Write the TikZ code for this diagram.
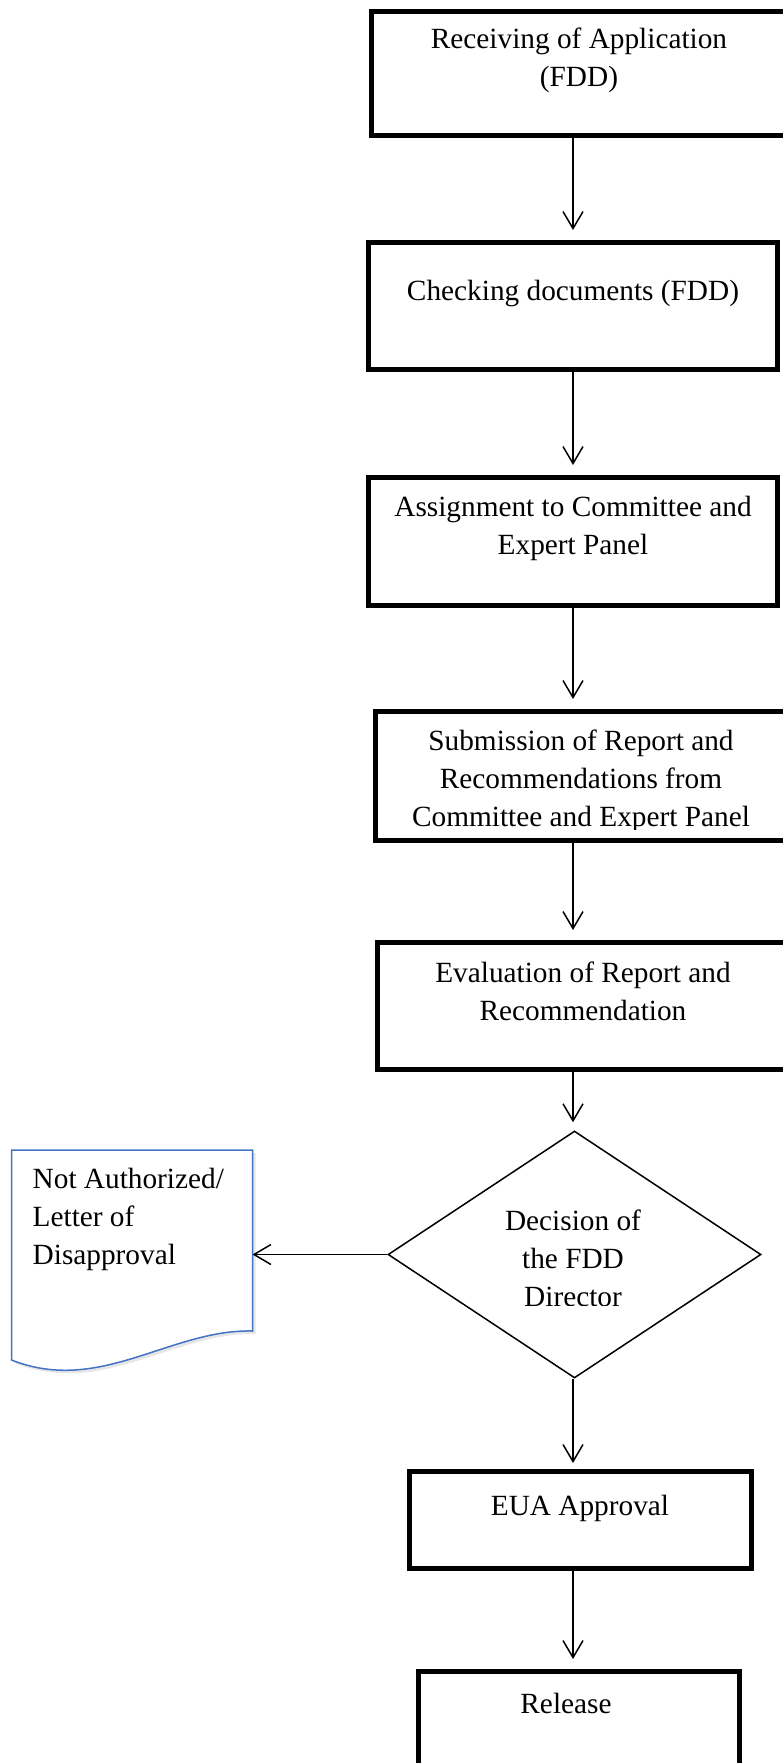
\documentclass[tikz,border=0pt]{standalone}
\usepackage{fontspec}
\setmainfont{Liberation Serif}
\usetikzlibrary{arrows.meta, positioning, shapes.geometric, shadows}
\definecolor{docblue}{RGB}{68,114,196}

\begin{document}
\begin{tikzpicture}[x=1pt, y=-1pt]
    \tikzstyle{process}=[rectangle, draw=black, line width=5pt, inner sep=0pt]
    \tikzstyle{decision}=[diamond, draw=black, line width=1.5pt, inner sep=0pt, minimum width=373pt, minimum height=247pt]
    \tikzstyle{docarea}=[rectangle, inner sep=0pt, outer sep=0pt, minimum width=241pt, minimum height=181pt]
    \tikzstyle{boxtext}=[inner sep=0pt, align=center, font=\fontsize{29.3}{38}\selectfont]
    \tikzstyle{flow}=[line width=1.5pt, -{Straight Barb[length=17pt, width=20pt]}, shorten >=10pt]

    \useasboundingbox (0,0) rectangle (783,1763);
    \clip (0,0) rectangle (783,1763);
    \coordinate (spine) at (573,0);

    % the steps, from top to bottom
    \node[process, minimum width=418.5pt, minimum height=124pt] (recv) at (580.75,73.5) {};
    \node[process, minimum width=409pt, minimum height=127pt] (check) at (573,306) {};
    \node[process, minimum width=409pt, minimum height=128pt] (assign) at (573,541.5) {};
    \node[process, minimum width=416.5pt, minimum height=129pt] (submit) at (583.75,776) {};
    \node[process, minimum width=414.5pt, minimum height=127pt] (eval) at (584.75,1006) {};
    \node[decision] (decide) at (574.5,1254.5) {};
    \node[process, minimum width=342pt, minimum height=97pt] (eua) at (580.5,1520) {};
    \node[process, minimum width=320.5pt, minimum height=108.5pt] (release) at (578.75,1725.75) {};

    % the refusal letter
    \node[docarea] (notauth) at (132,1240.5) {};
    \draw[docblue, line width=1.5pt, fill=white, drop shadow={shadow xshift=3pt, shadow yshift=-3pt, opacity=0.2}]
        (notauth.north west) -- (notauth.north east) -- (notauth.south east)
        .. controls (170,1329) and (100,1395) .. (11.5,1360) -- cycle;

    \node[boxtext, anchor=north] (recvtext) at (579,21.4) {\strut Receiving of Application\\(FDD)};
    \node[boxtext, anchor=north] (checktext) at (573,273.4) {\strut Checking documents (FDD)};
    \node[boxtext, anchor=north] (assigntext) at (573,489.4) {\strut Assignment to Committee and\\Expert Panel};
    \begin{scope}
        \clip (375,711) rectangle (790,829);
        \node[boxtext, anchor=north] (submittext) at (581,723.4) {\strut Submission of Report and\\Recommendations from\\Committee and Expert Panel};
    \end{scope}
    \node[boxtext, anchor=north] (evaltext) at (583,955.4) {\strut Evaluation of Report and\\Recommendation};
    \begin{scope}
        \clip (388,1131) rectangle (761,1305);
        \node[boxtext, anchor=north] (decidetext) at (573,1203.4) {\strut Decision of\\the FDD\\Director};
    \end{scope}
    \node[boxtext, align=left, anchor=north west] (notauthtext) at (32.5,1161.4) {\strut Not Authorized/\\Letter of\\Disapproval};
    \node[boxtext, anchor=north] (euatext) at (580,1488.4) {\strut EUA Approval};
    \node[boxtext, anchor=north] (releasetext) at (566,1686.4) {\strut Release};

    % connectors
    \draw[flow] (recv.south -| spine) -- (check.north -| spine);
    \draw[flow] (check.south -| spine) -- (assign.north -| spine);
    \draw[flow] (assign.south -| spine) -- (submit.north -| spine);
    \draw[flow] (submit.south -| spine) -- (eval.north -| spine);
    \draw[flow, shorten >=8pt] (eval.south -| spine) -- (decide.north -| spine);
    \draw[flow, shorten >=0pt] (decide.west) -- (notauth.east |- decide.west);
    \draw[flow, shorten >=6pt] (decide.south -| spine) -- (eua.north -| spine);
    \draw[flow] (eua.south -| spine) -- (release.north -| spine);
\end{tikzpicture}
\end{document}
